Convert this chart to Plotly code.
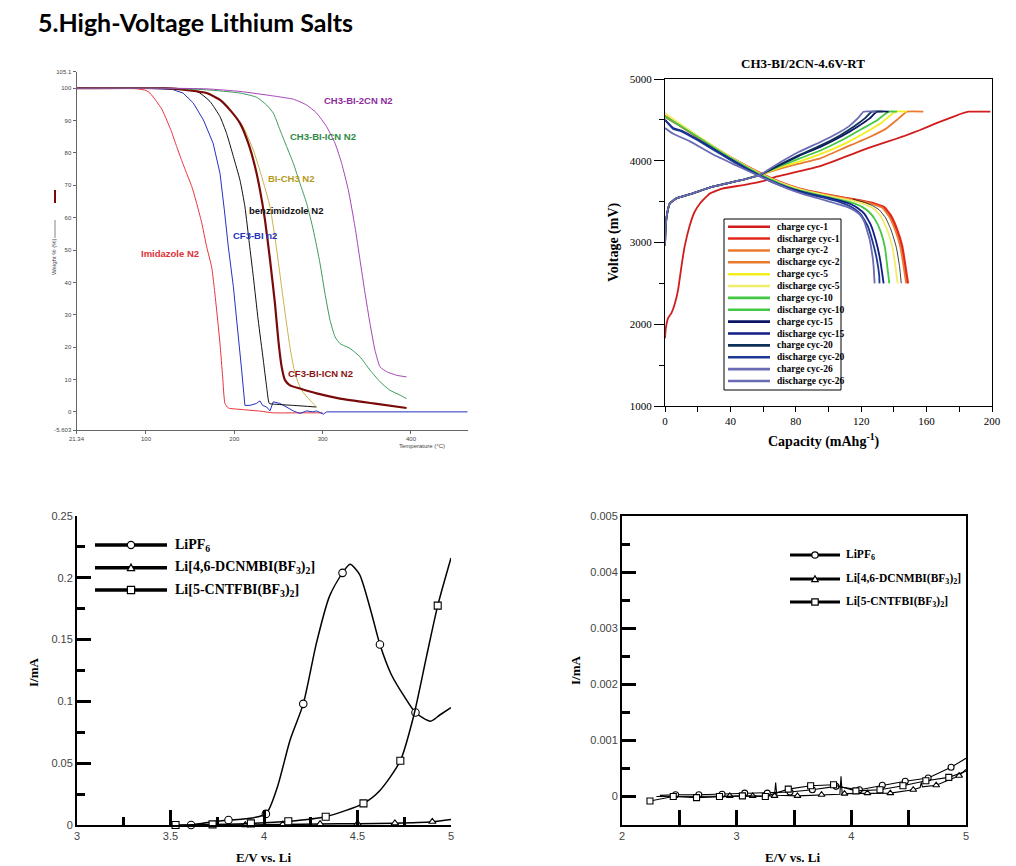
import plotly.graph_objects as go

W, H = 1016, 866


def px(x):
    return x / W


def py(y):
    return 1 - y / H


# ---------------- panel 1: TGA (temperature degC -> weight %) ----------------
imid_t = [21.34, 60, 90, 100, 104.5, 112, 118, 123.4, 129, 134.7, 140, 146, 152, 157.4, 163, 168.7,
          174.3, 177, 180, 183.8, 186.8, 189.4, 193.2, 210, 230, 244, 270, 300]
imid_w = [100, 100, 99.8, 99.3, 98.5, 95.9, 93.5, 90.2, 86.5, 82, 78, 73.7, 69.5, 64.4, 58.5, 51,
          44.8, 39, 31.4, 21, 10.8, 2.6, 1.2, 0.7, 0.2, -0.3, -0.3, -0.3]

cf3_t = [21.34, 100, 130, 142, 153.6, 165, 176, 183.8, 188.7, 193.2, 198.9, 204.5, 208.3, 212, 217.7,
         225, 229, 232, 236.6, 240.4, 244, 251.7, 259, 266.8, 274, 282, 289, 293, 300.8, 304.5, 464.2]
cf3_w = [100, 100, 99.6, 98.5, 95.4, 90.2, 83, 73.7, 62.4, 51, 38.7, 24.2, 12.9, 2, 2,
         2.6, 3.4, 2, 1.5, 0.3, 3.1, 2.6, 1.5, 0.3, -0.5, 0.3, 0, 0.3, -0.7, 0, 0]

benz_t = [21.34, 120, 150, 161, 172.5, 183.8, 191.3, 198.9, 206.4, 212, 217, 221.5, 227, 232.8,
          236.6, 239.6, 244, 266.8, 293]
benz_w = [100, 100, 99.7, 98.5, 95.9, 91.2, 86, 78.9, 71.6, 63.4, 52, 41.8, 28.4, 16,
          7.7, 2.6, 2.4, 2, 1.5]

bich3_t = [21.34, 120, 150, 168.7, 183.8, 191.3, 202.6, 210, 221.5, 231, 240.4, 248, 255.5, 263,
           268.7, 276, 285.7, 293.2]
bich3_w = [100, 100, 99.6, 98.5, 96.4, 94.8, 90.7, 88.1, 80.9, 72.7, 63.4, 50, 34.5, 20,
           11.9, 6.7, 3.6, 1.5]

icn_t = [21.34, 120, 149.8, 168.7, 183.8, 195, 206.4, 215.8, 223.4, 229, 234.7, 240.4, 246, 249.8,
         253.6, 257.4, 263, 274.3, 293.2, 319.6, 357.4, 395]
icn_w = [100, 100, 99.3, 98.5, 96.4, 93.3, 89.2, 83, 75.8, 68.6, 59.3, 47, 33.5, 22.2,
         13.9, 9.8, 8.2, 7.2, 5.7, 4.1, 2.6, 1.2]

ch3icn_t = [21.34, 120, 168.7, 206.4, 225.3, 236.6, 244.2, 251.7, 259.2, 266.8, 274.3, 281.9, 289.4,
            297, 302.6, 308.3, 314, 319.6, 331, 342.3, 353.6, 365, 376, 387.5, 395]
ch3icn_w = [100, 100, 99.5, 98.5, 97.2, 94.8, 92.3, 87.1, 82, 76.8, 70.6, 64.4, 56.2,
            45.9, 36.6, 28.4, 23.2, 21.1, 19.6, 17, 12.9, 9.3, 6.7, 5.2, 4.1]

ch3cn2_t = [21.34, 120, 168.7, 206.4, 244.2, 266.8, 281.9, 293.2, 304.5, 314, 321.5, 329, 336.6,
            342.3, 348, 353.6, 359.2, 365, 372.5, 383.8, 395]
ch3cn2_w = [100, 100, 99.8, 99, 97.6, 96.6, 94.8, 92.3, 88.1, 83, 76.8, 68.6, 57.2,
            46.9, 36.6, 27.3, 19.1, 13.9, 12.4, 11.3, 10.8]

tga_names = ["Imidazole N2", "CF3-BI n2", "benzimidzole N2", "BI-CH3 N2",
             "CF3-BI-ICN N2", "CH3-BI-ICN N2", "CH3-BI-2CN N2"]
tga_line_colors = ["#e8333a", "#2233c0", "#111111", "#c9b24a", "#7a0a0a", "#3a9a5a", "#a445b5"]
tga_text_colors = ["#e03038", "#2233bb", "#111111", "#b59a22", "#8a1414", "#2e8b45", "#8e2e9e"]
tga_label_t = [127, 223, 259, 264, 298, 300, 341]
tga_label_w = [49, 54.6, 62.2, 72, 11.9, 85, 96.2]

# ---------------- panel 2: charge / discharge (mAh/g -> mV) ----------------
cycles = ["1", "2", "5", "10", "15", "20", "26"]
chg_colors = ["#d21c1c", "#e97b30", "#f3ef1c", "#45c845", "#0c1466", "#0d3058", "#6b6bb5"]
dis_colors = ["#e2281c", "#e97b30", "#f0ed6a", "#45c845", "#101c84", "#1a3894", "#6b6bb5"]

chg_head_cap = [0, 0.3, 1, 3, 7, 17, 27.6, 38, 48, 58]
chg_head_v = [2960, 3150, 3316, 3480, 3540, 3602, 3675, 3724, 3770, 3826]

chg1_cap = [0, 0.5, 2, 4, 6, 8, 10, 12, 15, 18, 21.5, 27.5, 35, 48, 60, 68, 80, 95, 105, 115,
            125, 136, 146, 156, 166, 176.5, 181, 185.7, 199]
chg1_v = [1830, 1950, 2080, 2140, 2250, 2420, 2700, 2950, 3200, 3370, 3480, 3600, 3660, 3703, 3750,
          3805, 3862, 3935, 4008, 4085, 4160, 4233, 4300, 4376, 4460, 4539, 4575, 4600, 4600]
chg2_cap = [70, 82, 95, 110, 125.5, 135, 141.8, 148, 158]
chg2_v = [3900, 3965, 4030, 4160, 4294, 4390, 4498, 4600, 4600]
chg5_cap = [70, 82, 95, 110, 122, 132, 141, 148]
chg5_v = [3915, 3990, 4080, 4210, 4340, 4460, 4600, 4600]
chg10_cap = [70, 82, 95, 108, 120, 130, 136.8, 141.9]
chg10_v = [3930, 4025, 4125, 4250, 4385, 4500, 4600, 4600]
chg15_cap = [70, 82, 95, 108, 118, 125, 129.6, 136.8]
chg15_v = [3945, 4060, 4170, 4300, 4420, 4515, 4600, 4600]
chg20_cap = [70, 82, 95, 107, 116, 122, 126.5, 133]
chg20_v = [3950, 4070, 4185, 4310, 4425, 4515, 4600, 4600]
chg26_cap = [70, 82, 95, 105, 113, 118, 121.4, 129]
chg26_v = [3975, 4110, 4230, 4330, 4430, 4520, 4600, 4600]

dis1_cap = [0, 10, 20, 30, 40, 50, 60, 70, 80, 90, 100, 110, 120, 128, 134, 138, 142, 145, 147, 148.5]
dis1_v = [4540, 4420, 4290, 4160, 4040, 3930, 3830, 3740, 3670, 3620, 3580, 3545, 3510, 3475, 3430,
          3330, 3150, 2950, 2700, 2500]
dis2_cap = [0, 10, 20, 30, 40, 50, 60, 70, 80, 90, 100, 110, 120, 127, 133, 137, 141, 144, 146, 147.5]
dis2_v = [4560, 4430, 4300, 4170, 4045, 3935, 3830, 3740, 3670, 3620, 3578, 3542, 3505, 3470, 3425,
          3320, 3140, 2940, 2700, 2500]
dis5_cap = [0, 10, 20, 30, 40, 50, 60, 70, 80, 90, 100, 110, 118, 123, 128, 132, 136, 139, 141, 142.3]
dis5_v = [4580, 4440, 4305, 4170, 4045, 3930, 3825, 3735, 3665, 3612, 3570, 3530, 3495, 3460, 3410,
          3320, 3150, 2950, 2700, 2500]
dis10_cap = [0, 10, 20, 30, 40, 50, 60, 70, 80, 90, 100, 110, 116, 121, 125, 128.5, 132, 134.5, 136, 137.2]
dis10_v = [4540, 4420, 4290, 4160, 4035, 3920, 3815, 3725, 3650, 3600, 3555, 3510, 3475, 3430, 3370,
           3280, 3130, 2940, 2700, 2500]
dis15_cap = [0, 5, 10, 20, 30, 40, 50, 60, 70, 80, 90, 100, 108, 114, 118, 122, 126, 129, 131.5, 133, 133.7]
dis15_v = [4500, 4400, 4370, 4260, 4140, 4020, 3905, 3800, 3710, 3640, 3590, 3545, 3505, 3465, 3420,
           3350, 3210, 3020, 2800, 2600, 2500]
dis20_cap = [0, 5, 10, 20, 30, 40, 50, 60, 70, 80, 90, 100, 107, 112, 116, 120, 124, 127, 129.5, 131, 131.2]
dis20_v = [4500, 4390, 4360, 4250, 4130, 4010, 3895, 3790, 3700, 3630, 3580, 3535, 3495, 3455, 3410,
           3340, 3200, 3010, 2800, 2600, 2500]
dis26_cap = [0, 5, 15, 30, 45, 60, 75, 85, 95, 104, 111, 116, 119.4, 122, 123.5, 125, 126, 127, 127.6, 128.2]
dis26_v = [4400, 4330, 4240, 4070, 3930, 3790, 3660, 3590, 3532, 3480, 3438, 3390, 3336, 3250, 3153,
           3050, 2949, 2820, 2704, 2500]
# thin black trace seen between the yellow and red knees
disx_cap = [115, 122, 127, 131, 135, 138.5, 141.5, 143.5, 144.5]
disx_v = [3530, 3490, 3450, 3400, 3300, 3140, 2940, 2700, 2500]

# ---------------- panel 3: LSV 3-5 V ----------------
bl_pf6_e = [3.61, 3.70, 3.81, 3.90, 4.01, 4.07, 4.14, 4.21, 4.28, 4.35, 4.42, 4.46, 4.51, 4.57,
            4.62, 4.68, 4.75, 4.81, 4.89, 4.94, 5.0]
bl_pf6_i = [0, 0.002, 0.004, 0.005, 0.009, 0.03, 0.069, 0.098, 0.147, 0.185, 0.204, 0.211, 0.203,
            0.174, 0.146, 0.122, 0.104, 0.091, 0.084, 0.089, 0.095]
bl_pf6_mk = [0, 2, 4, 7, 10, 14, 17]
bl_dcn_e = [3.75, 3.9, 4.1, 4.3, 4.5, 4.7, 4.9, 5.0]
bl_dcn_i = [0, 0, 0.0004, 0.0008, 0.0011, 0.0015, 0.0027, 0.0045]
bl_dcn_mk = [1, 2, 3, 4, 5, 6]
bl_cnt_e = [3.527, 3.725, 3.93, 4.13, 4.33, 4.532, 4.62, 4.729, 4.8, 4.87, 4.929, 5.0]
bl_cnt_i = [0, 0.0005, 0.0013, 0.003, 0.0067, 0.0175, 0.028, 0.052, 0.088, 0.137, 0.1775, 0.216]
bl_cnt_mk = [0, 1, 2, 3, 4, 5, 7, 10]

# ---------------- panel 4: LSV 2-5 V ----------------
br_pf6_e = [2.33, 2.467, 2.67, 2.873, 3.07, 3.267, 3.465, 3.66, 3.866, 4.07, 4.27, 4.47, 4.67, 4.87, 5.0]
br_pf6_i = [0.00002, 0.00003, 0.00003, 0.00004, 0.00006, 0.00006, 0.00008, 0.00012, 0.00018, 0.00012,
            0.0002, 0.00027, 0.00033, 0.00052, 0.00068]
br_pf6_mk = [1, 2, 3, 4, 5, 6, 7, 8, 9, 10, 11, 12, 13]
br_dcn_e = [2.30, 2.94, 3.14, 3.33, 3.34, 3.35, 3.53, 3.74, 3.90, 3.91, 3.92, 3.94, 4.14, 4.34, 4.54,
            4.60, 4.61, 4.62, 4.74, 4.94, 5.0]
br_dcn_i = [0, 0.00001, 0.00001, 0.00001, 0.00025, 0.00002, 0.00001, 0.00003, 0.00004, 0.00036, 0.00005,
            0.00005, 0.00006, 0.00006, 0.00012, 0.00016, 0.00025, 0.00017, 0.0002, 0.00037, 0.00048]
br_dcn_mk = [1, 2, 3, 6, 7, 11, 12, 13, 14, 18, 19]
br_cnt_e = [2.244, 2.447, 2.65, 2.85, 3.05, 3.25, 3.45, 3.645, 3.845, 4.04, 4.25, 4.45, 4.65, 4.85, 5.0]
br_cnt_i = [-0.00008, 0, -0.00002, 0, 0.00001, 0, 0.00013, 0.00019, 0.00021, 0.0001, 0.00012, 0.00019,
            0.00028, 0.00034, 0.00045]
br_cnt_mk = [0, 1, 2, 3, 4, 5, 6, 7, 8, 9, 10, 11, 12, 13]

salt_names = ["<b>LiPF<sub>6</sub></b>",
              "<b>Li[4,6-DCNMBI(BF<sub>3</sub>)<sub>2</sub>]</b>",
              "<b>Li[5-CNTFBI(BF<sub>3</sub>)<sub>2</sub>]</b>"]
salt_symbols = ["circle", "triangle-up", "square"]

SERIF = "Liberation Serif"
SANS = "Liberation Sans"

fig = go.Figure()

# panel 1 traces
tga_series = [(imid_t, imid_w), (cf3_t, cf3_w), (benz_t, benz_w), (bich3_t, bich3_w),
              (icn_t, icn_w), (ch3icn_t, ch3icn_w), (ch3cn2_t, ch3cn2_w)]
for (t, w), name, col in zip(tga_series, tga_names, tga_line_colors):
    shape = "linear" if name == "CF3-BI n2" else "spline"
    fig.add_trace(go.Scatter(x=t, y=w, mode="lines", name=name, showlegend=False,
                             line=dict(color=col, width=2.2 if name == "CF3-BI-ICN N2" else 1,
                                       shape=shape, smoothing=0.5),
                             xaxis="x", yaxis="y"))

# panel 2 traces
chg_tails = [(chg2_cap, chg2_v), (chg5_cap, chg5_v), (chg10_cap, chg10_v), (chg15_cap, chg15_v),
             (chg20_cap, chg20_v), (chg26_cap, chg26_v)]
chg_series = [(chg1_cap, chg1_v)] + [(chg_head_cap + c, chg_head_v + v) for c, v in chg_tails]
dis_series = [(dis1_cap, dis1_v), (dis2_cap, dis2_v), (dis5_cap, dis5_v), (dis10_cap, dis10_v),
              (dis15_cap, dis15_v), (dis20_cap, dis20_v), (dis26_cap, dis26_v)]
for i, cyc in enumerate(cycles):
    c, v = chg_series[i]
    fig.add_trace(go.Scatter(x=c, y=v, mode="lines", name="charge cyc-" + cyc, showlegend=False,
                             line=dict(color=chg_colors[i], width=1.8, shape="spline", smoothing=0.4),
                             xaxis="x2", yaxis="y2"))
    c, v = dis_series[i]
    fig.add_trace(go.Scatter(x=c, y=v, mode="lines", name="discharge cyc-" + cyc, showlegend=False,
                             line=dict(color=dis_colors[i], width=2.6 if cyc == "1" else 1.8,
                                       shape="spline", smoothing=0.4),
                             xaxis="x2", yaxis="y2"))
    if cyc == "2":
        fig.add_trace(go.Scatter(x=disx_cap, y=disx_v, mode="lines", showlegend=False,
                                 line=dict(color="#111111", width=0.8, shape="spline", smoothing=0.4),
                                 xaxis="x2", yaxis="y2"))


# panels 3 and 4 traces
def add_lsv(e, i, mk, sym, ax, size, lw, shape):
    fig.add_trace(go.Scatter(x=e, y=i, mode="lines", showlegend=False, cliponaxis=False,
                             line=dict(color="black", width=lw, shape=shape, smoothing=0.7),
                             xaxis="x" + ax, yaxis="y" + ax))
    fig.add_trace(go.Scatter(x=[e[k] for k in mk], y=[i[k] for k in mk], mode="markers",
                             showlegend=False, cliponaxis=False,
                             marker=dict(symbol=sym, size=size, color="white",
                                         line=dict(color="black", width=1.1)),
                             xaxis="x" + ax, yaxis="y" + ax))


add_lsv(bl_pf6_e, bl_pf6_i, bl_pf6_mk, "circle", "3", 7.5, 1.5, "spline")
add_lsv(bl_dcn_e, bl_dcn_i, bl_dcn_mk, "triangle-up", "3", 6.5, 1.5, "spline")
add_lsv(bl_cnt_e, bl_cnt_i, bl_cnt_mk, "square", "3", 7, 1.5, "spline")
add_lsv(br_pf6_e, br_pf6_i, br_pf6_mk, "circle", "4", 6, 1.1, "linear")
add_lsv(br_dcn_e, br_dcn_i, br_dcn_mk, "triangle-up", "4", 6, 1.1, "linear")
add_lsv(br_cnt_e, br_cnt_i, br_cnt_mk, "square", "4", 6, 1.1, "linear")

shapes = []
annotations = []


def note(x, y, text, size, family=SERIF, color="black", angle=0, xanchor="center"):
    annotations.append(dict(x=px(x), y=py(y), xref="paper", yref="paper", text=text,
                            xanchor=xanchor, yanchor="middle", textangle=angle, showarrow=False,
                            font=dict(family=family, size=size, color=color)))


# TGA curve labels
for name, col, t, w in zip(tga_names, tga_text_colors, tga_label_t, tga_label_w):
    annotations.append(dict(x=t, y=w, xref="x", yref="y", text="<b>" + name + "</b>", showarrow=False,
                            xanchor="center", yanchor="middle",
                            font=dict(family=SANS, size=9.5, color=col)))

# panel 2 legend box
shapes.append(dict(type="rect", xref="paper", yref="paper", x0=px(724), x1=px(841), y0=py(390),
                   y1=py(219), line=dict(color="black", width=1), fillcolor="white", layer="above"))
for i, cyc in enumerate(cycles):
    for j, (lab, col) in enumerate([("charge cyc-" + cyc, chg_colors[i]),
                                    ("discharge cyc-" + cyc, dis_colors[i])]):
        yy = 226.7 + (2 * i + j) * 11.87
        shapes.append(dict(type="line", xref="paper", yref="paper", x0=px(728), x1=px(770),
                           y0=py(yy), y1=py(yy), line=dict(color=col, width=2.6)))
        note(775, yy, "<b>" + lab + "</b>", 9.5, xanchor="left")


def marker_shape(sym, cx, cy, r):
    base = dict(xref="paper", yref="paper", fillcolor="white", line=dict(color="black", width=1.2))
    if sym == "circle":
        base.update(type="circle", x0=px(cx - r), x1=px(cx + r), y0=py(cy + r), y1=py(cy - r))
    elif sym == "square":
        base.update(type="rect", x0=px(cx - r), x1=px(cx + r), y0=py(cy + r), y1=py(cy - r))
    else:
        base.update(type="path", path="M {:.5f},{:.5f} L {:.5f},{:.5f} L {:.5f},{:.5f} Z".format(
            px(cx - r), py(cy + r * 0.8), px(cx + r), py(cy + r * 0.8), px(cx), py(cy - r)))
    return base


def salt_legend(x0, x1, xm, xt, ys, lw, r, fsize):
    for name, sym, yy in zip(salt_names, salt_symbols, ys):
        shapes.append(dict(type="line", xref="paper", yref="paper", x0=px(x0), x1=px(x1),
                           y0=py(yy), y1=py(yy), line=dict(color="black", width=lw)))
        shapes.append(marker_shape(sym, xm, yy, r))
        note(xt, yy, name, fsize, xanchor="left")


salt_legend(95, 167, 131, 173, [545, 567.7, 590], 3.5, 3.6, 14)
salt_legend(790, 840, 815, 844, [555, 579, 602], 3, 3.2, 11.5)

# titles
note(36, 22, "<b>5.High-Voltage Lithium Salts</b>", 25, family="Lato", xanchor="left")
note(803, 64, "<b>CH3-BI/2CN-4.6V-RT</b>", 13)
note(614, 242, "<b>Voltage (mV)</b>", 14, angle=-90)
note(824, 440, "<b>Capacity (mAhg<sup>-1</sup>)</b>", 14)
note(54, 257, "Weight % (%)", 6, family=SANS, color="#444", angle=-90)
note(422, 446, "Temperature (°C)", 6, family=SANS, color="#444")
note(33, 672, "<b>I/mA</b>", 13, angle=-90)
note(263, 857, "<b>E/V vs. Li</b>", 13)
note(575, 670, "<b>I/mA</b>", 13, angle=-90)
note(792, 857, "<b>E/V vs. Li</b>", 13)

# small line keys next to the TGA y title
shapes.append(dict(type="line", xref="paper", yref="paper", x0=px(55), x1=px(55), y0=py(190),
                   y1=py(203), line=dict(color="#7a0a0a", width=2)))
shapes.append(dict(type="line", xref="paper", yref="paper", x0=px(55), x1=px(55), y0=py(220),
                   y1=py(238), line=dict(color="#666", width=0.8)))

tga_ticks_y = [-5.603, 0, 10, 20, 30, 40, 50, 60, 70, 80, 90, 100, 105.1]
tga_ticks_x = [21.34, 100, 200, 300, 400]

gray_font = dict(family=SANS, size=6, color="#444")
base_ax = dict(showgrid=False, zeroline=False, showline=True, linecolor="black", automargin=False)

fig.update_layout(
    width=W, height=H, margin=dict(l=0, r=0, t=0, b=0, pad=0),
    paper_bgcolor="white", plot_bgcolor="white", showlegend=False,
    xaxis=dict(base_ax, domain=[px(76.5), px(467.7)], range=[21.34, 464.2], anchor="y",
               tickvals=tga_ticks_x, ticktext=[str(v) for v in tga_ticks_x], ticks="outside",
               ticklen=3, tickcolor="#666", linecolor="#666", linewidth=1, tickfont=gray_font),
    yaxis=dict(base_ax, domain=[py(430), py(71.7)], range=[-5.603, 105.1], anchor="x",
               tickvals=tga_ticks_y, ticktext=[str(v) for v in tga_ticks_y], ticks="outside",
               ticklen=3, tickcolor="#666", linecolor="#666", linewidth=1, tickfont=gray_font),
    xaxis2=dict(base_ax, domain=[px(665), px(992)], range=[0, 200], anchor="y2", mirror=True,
                linewidth=1, dtick=40, ticks="outside", ticklen=5, tickcolor="black",
                minor=dict(dtick=20, ticklen=5, ticks="outside", tickcolor="black"),
                tickfont=dict(family=SERIF, size=11, color="black")),
    yaxis2=dict(base_ax, domain=[py(406), py(79)], range=[1000, 5000], anchor="x2", mirror=True,
                linewidth=1, dtick=1000, ticks="outside", ticklen=10, tickcolor="black",
                minor=dict(dtick=500, ticklen=5, ticks="outside", tickcolor="black"),
                tickfont=dict(family=SERIF, size=11, color="black")),
    xaxis3=dict(base_ax, domain=[px(77), px(451)], range=[3, 5], anchor="y3", linewidth=2,
                dtick=0.5, ticks="inside", ticklen=15, tickwidth=2.5, tickcolor="black",
                minor=dict(dtick=0.25, ticklen=8, tickwidth=2.5, ticks="inside", tickcolor="black"),
                tickfont=dict(family=SANS, size=11, color="#444")),
    yaxis3=dict(base_ax, domain=[py(825), py(516)], range=[0, 0.25], anchor="x3", linewidth=2,
                dtick=0.05, ticks="inside", ticklen=14, tickwidth=3, tickcolor="black",
                minor=dict(dtick=0.025, ticklen=8, tickwidth=3, ticks="inside", tickcolor="black"),
                tickfont=dict(family=SANS, size=11, color="#444")),
    xaxis4=dict(base_ax, domain=[px(622), px(966)], range=[2, 5], anchor="y4", linewidth=2,
                mirror=True, dtick=1, ticks="inside", ticklen=15, tickwidth=2.5, tickcolor="black",
                minor=dict(dtick=0.5, ticklen=15, tickwidth=2.5, ticks="inside", tickcolor="black"),
                tickfont=dict(family=SANS, size=11, color="#444")),
    yaxis4=dict(base_ax, domain=[py(824.5), py(516)], range=[-0.0005, 0.005], anchor="x4",
                linewidth=2, mirror=True, tick0=0, dtick=0.001, ticks="inside", ticklen=14,
                tickwidth=3, tickcolor="black",
                minor=dict(dtick=0.0005, ticklen=8, tickwidth=3, ticks="inside", tickcolor="black"),
                tickfont=dict(family=SANS, size=11, color="#444")),
    shapes=shapes,
    annotations=annotations,
)

fig.write_html("out.html", config={"displayModeBar": False},
               post_script="document.body.style.margin='0';")
